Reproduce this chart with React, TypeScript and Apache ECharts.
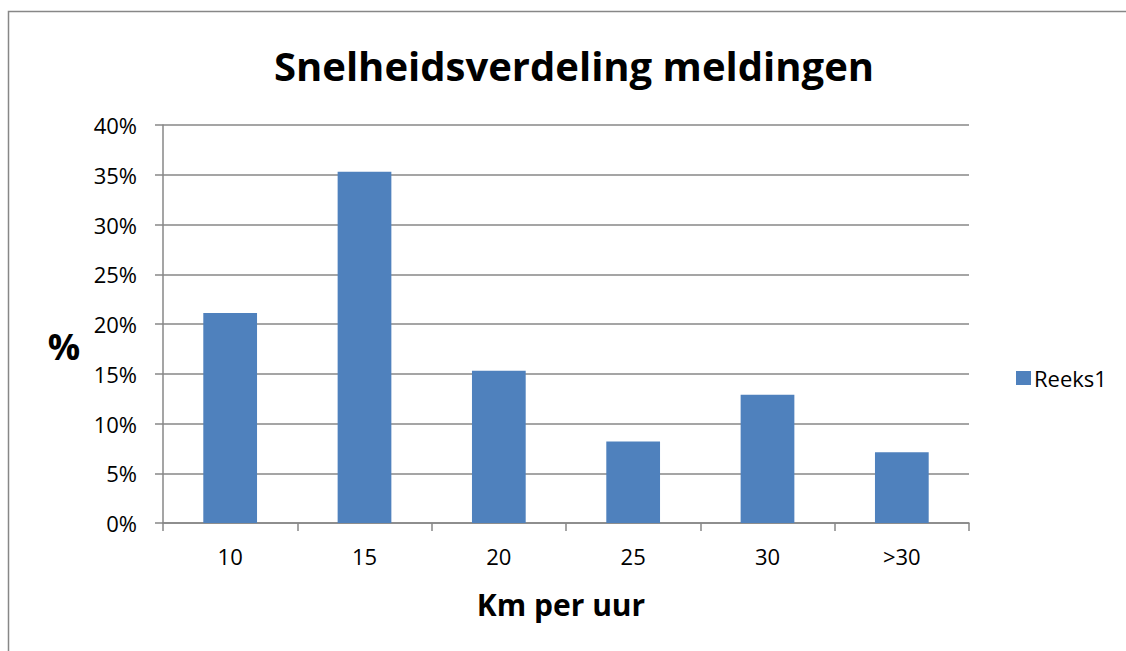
import React, { useEffect, useRef } from "react";
import * as echarts from "echarts";

const categories = ["10", "15", "20", "25", "30", ">30"];
const values = [21.1, 35.3, 15.3, 8.2, 12.9, 7.1];
const seriesName = "Reeks1";
const titleText = "Snelheidsverdeling meldingen";
const yName = "%";
const xName = "Km per uur";

const FONT = "'Open Sans', 'Noto Sans', sans-serif";
const GRAY = "#878787";

export default function App() {
  const ref = useRef<HTMLDivElement>(null);
  useEffect(() => {
    if (!ref.current) return;
    const chart = echarts.init(ref.current, null, { renderer: "svg" });
    chart.setOption({
      animation: false,
      backgroundColor: "#ffffff",
      textStyle: { fontFamily: FONT },
      title: {
        text: titleText,
        left: 569,
        top: 40,
        textAlign: "center",
        textStyle: { fontFamily: FONT, fontWeight: "bold", fontSize: 40, color: "#000" },
      },
      legend: {
        data: [seriesName],
        left: 1011,
        top: 362,
        icon: "rect",
        itemWidth: 15,
        itemHeight: 14,
        itemGap: 6,
        textStyle: { fontFamily: FONT, fontSize: 22, color: "#000", padding: [0, 0, 0, -2] },
      },
      grid: { left: 163, right: 157, top: 125, bottom: 128, containLabel: false },
      xAxis: {
        type: "category",
        data: categories,
        boundaryGap: true,
        axisLine: { show: true, lineStyle: { color: GRAY, width: 1.5 } },
        axisTick: { show: true, length: 8, lineStyle: { color: GRAY, width: 1.5 } },
        axisLabel: { margin: 22, fontFamily: FONT, fontSize: 22, color: "#000" },
      },
      yAxis: {
        type: "value",
        min: 0,
        max: 40,
        interval: 5,
        axisLine: { show: true, lineStyle: { color: GRAY, width: 1.5 } },
        axisTick: { show: true, length: 8, lineStyle: { color: GRAY, width: 1.5 } },
        axisLabel: { margin: 26, formatter: "{value}%", fontFamily: FONT, fontSize: 22, color: "#000" },
        splitLine: { show: true, lineStyle: { color: GRAY, width: 1.5 } },
      },
      series: [
        {
          name: seriesName,
          type: "bar",
          data: values,
          barWidth: "40%",
          itemStyle: { color: "#4F81BD" },
        },
      ],
      graphic: [
        {
          type: "rect",
          shape: { x: 8.5, y: 11.5, width: 1300, height: 800 },
          style: { fill: "none", stroke: GRAY, lineWidth: 1.5 },
          silent: true,
          z: -10,
        },
        {
          type: "text",
          x: 64,
          y: 346,
          style: {
            text: yName,
            fontFamily: FONT,
            fontWeight: "bold",
            fontSize: 36,
            fill: "#000",
            align: "center",
            verticalAlign: "middle",
          },
        },
        {
          type: "text",
          x: 561,
          y: 604,
          style: {
            text: xName,
            fontFamily: FONT,
            fontWeight: "bold",
            fontSize: 30,
            fill: "#000",
            align: "center",
            verticalAlign: "middle",
          },
        },
      ],
    });
    return () => chart.dispose();
  }, []);
  return (
    <div
      ref={ref}
      style={{ position: "fixed", left: 0, top: 0, width: 1126, height: 651 }}
    />
  );
}
